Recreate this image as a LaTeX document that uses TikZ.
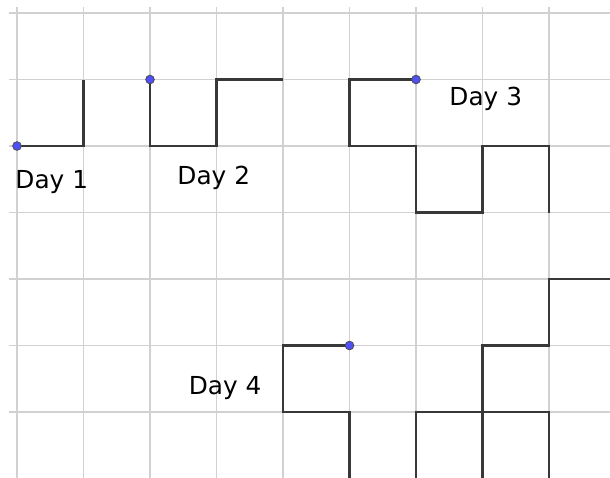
\documentclass[tikz,border=0pt]{standalone}
\usepackage{fontspec}
\setmainfont{DejaVu Sans}
\begin{document}
\begin{tikzpicture}[x=1cm,y=1cm,
  gridline/.style={draw=black!18, line width=0.45pt},
  walk/.style={draw=black!78, line width=0.95pt, line join=miter},
  startdot/.style={circle, fill={rgb,255:red,80;green,80;blue,250}, draw=black!70, line width=0.35pt, inner sep=0pt, minimum size=0.13cm},
  daylabel/.style={anchor=base west, inner sep=0pt, font=\fontsize{10.6}{12}\selectfont}]
\useasboundingbox (-0.2556,0.1955) rectangle (8.917,-6.992);
\fill[white] (-0.2556,0.1955) rectangle (8.917,-6.992);
\begin{scope}
\clip (-0.2556,0.1955) rectangle (8.917,-6.992);
% grid
\foreach \i in {0,...,8} \draw[gridline] (\i,0.09) -- (\i,-7.1);
\foreach \j in {0,...,6} \draw[gridline] (-0.12,-\j) -- (9,-\j);
% coordinates
\coordinate (s1) at (0,-2);
\coordinate (s2) at (2,-1);
\coordinate (s3) at (6,-1);
\coordinate (s4) at (5,-5);
% Day 1
\draw[walk] (s1) -- (1,-2) -- (1,-1);
% Day 2
\draw[walk] (s2) -- (2,-2) -- (3,-2) -- (3,-1) -- (4,-1);
% Day 3
\draw[walk] (s3) -- (5,-1) -- (5,-2) -- (6,-2) -- (6,-3) -- (7,-3) -- (7,-2) -- (8,-2) -- (8,-3);
% Day 4
\draw[walk] (s4) -- (4,-5) -- (4,-6) -- (5,-6) -- (5,-7.2);
\draw[walk] (6,-7.2) -- (6,-6) -- (8,-6) -- (8,-7.2);
\draw[walk] (7,-7.2) -- (7,-5) -- (8,-5) -- (8,-4) -- (9.2,-4);
\end{scope}
% dots
\node[startdot] (d1) at (s1) {};
\node[startdot] (d2) at (s2) {};
\node[startdot] (d3) at (s3) {};
\node[startdot] (d4) at (s4) {};
% labels
\node[daylabel] (l1) at (-0.03,-2.632) {Day 1};
\node[daylabel] (l2) at (2.406,-2.586) {Day 2};
\node[daylabel] (l3) at (6.496,-1.398) {Day 3};
\node[daylabel] (l4) at (2.576,-5.734) {Day 4};
\end{tikzpicture}
\end{document}
